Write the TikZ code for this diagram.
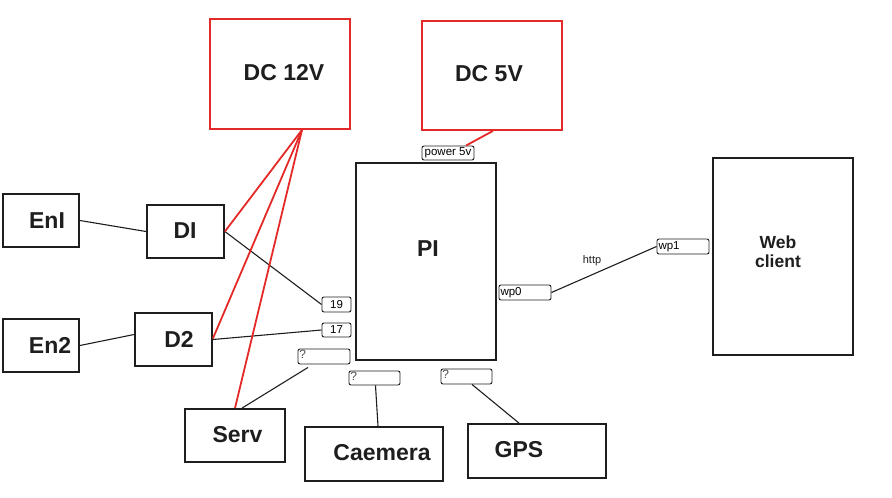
\documentclass[tikz,border=0pt]{standalone}
\usepackage{fontspec}
\setmainfont{Liberation Sans}
\usetikzlibrary{calc}
\definecolor{pred}{RGB}{228,42,40}
\definecolor{ink}{RGB}{30,30,30}
\begin{document}
\begin{tikzpicture}[x=1pt,y=-1pt,
  box/.style={draw=ink,line width=1.8pt,minimum width=#1,inner sep=0pt},
  redbox/.style={draw=pred,line width=1.8pt,inner sep=0pt},
  big/.style={font=\fontsize{23}{26}\selectfont\bfseries,text=ink,inner sep=0pt},
  port/.style={draw=ink,line width=0.9pt,rounded corners=2pt,inner sep=0pt,font=\fontsize{11.5}{12}\selectfont},
  qmark/.style={font=\fontsize{12}{12}\selectfont,text=ink!80,inner sep=0pt,anchor=north west},
  wire/.style={draw=ink,line width=1.1pt},
  redwire/.style={draw=pred,line width=1.8pt}]
\useasboundingbox (0,0) rectangle (892,498);
% boxes
\node[redbox,minimum width=140pt,minimum height=110pt] (dc12) at (280,74) {};
\node[redbox,minimum width=140pt,minimum height=109pt] (dc5) at (492,75.5) {};
\node[box=140pt,minimum height=197pt] (pi) at (426,261.5) {};
\node[box=140pt,minimum height=197pt] (web) at (783,256.5) {};
\node[box=76pt,minimum height=53pt] (en1) at (41,220.5) {};
\node[box=77pt,minimum height=53pt] (d1) at (185.5,231.5) {};
\node[box=76pt,minimum height=53pt] (en2) at (41,345.5) {};
\node[box=77pt,minimum height=53pt] (d2) at (173.5,339.5) {};
\node[box=100pt,minimum height=53pt] (serv) at (235,435.5) {};
\node[box=138pt,minimum height=54pt] (cam) at (374,454) {};
\node[box=138pt,minimum height=54pt] (gps) at (537,451) {};
% labels
\node[big] (t12) at (284,72.5) {DC 12V};
\node[big] (t5) at (489,74) {DC 5V};
\node[big] (tpi) at (428,249) {PI};
\node[font=\fontsize{17.5}{19}\selectfont\bfseries,text=ink,align=center,inner sep=0pt] (tweb) at (778,252) {Web\\client};
\node[big] (ten1) at (47,221) {EnI};
\node[big] (td1) at (185,231) {DI};
\node[big] (ten2) at (50,345) {En2};
\node[big] (td2) at (179,339) {D2};
\node[big] (tserv) at (237.5,435) {Serv};
\node[big] (tcam) at (382,453) {Caemera};
\node[big] (tgps) at (519,450) {GPS};
% ports
\node[port,minimum width=52pt,minimum height=14pt] (p5) at (448,153) {power 5v};
\node[port,minimum width=29pt,minimum height=15pt] (p19) at (336.5,304.5) {19};
\node[port,minimum width=29pt,minimum height=14pt] (p17) at (336.5,330) {17};
\node[port,minimum width=52pt,minimum height=15pt] (qs) at (324,356.5) {};
\node[port,minimum width=51pt,minimum height=14pt] (qc) at (374.5,378) {};
\node[port,minimum width=51pt,minimum height=15pt] (qg) at (466.5,376.5) {};
\node[port,minimum width=52pt,minimum height=15pt,text width=49pt,align=left] (wp0) at (525,292.5) {wp0};
\node[port,minimum width=52pt,minimum height=15pt,text width=49pt,align=left] (wp1) at (683,246.5) {wp1};
\node[qmark] (qst) at ($(qs.north west)+(1.5,1)$) {?};
\node[qmark] (qct) at ($(qc.north west)+(1.5,1)$) {?};
\node[qmark] (qgt) at ($(qg.north west)+(1.5,1)$) {?};
% wires
\draw[wire] (en1.east) -- (d1.west);
\draw[wire] (en2.east) -- ([yshift=5pt]d2.west);
\draw[wire] (d1.east) -- (p19.west);
\draw[wire] (d2.east) -- (p17.west);
\draw[wire] ([xshift=7pt]serv.north) -- ([xshift=-16pt,yshift=-3pt]qs.south);
\draw[wire] ([xshift=4pt]cam.north) -- ([xshift=1pt]qc.south);
\draw[wire] ([xshift=-18pt]gps.north) -- ([xshift=5.5pt]qg.south);
\draw[wire] (wp0.east) -- (wp1.west);
\node[font=\fontsize{11}{12}\selectfont,text=ink,inner sep=0pt] (http) at (592,261) {http};
% power
\coordinate (c12) at ([xshift=22pt]dc12.south);
\draw[redwire] (c12) -- (d1.east);
\draw[redwire] (c12) -- ([yshift=1pt]d2.east);
\draw[redwire] (c12) -- (serv.north);
\draw[redwire] ([xshift=1pt]dc5.south) -- ([xshift=18pt]p5.north);
\end{tikzpicture}
\end{document}
